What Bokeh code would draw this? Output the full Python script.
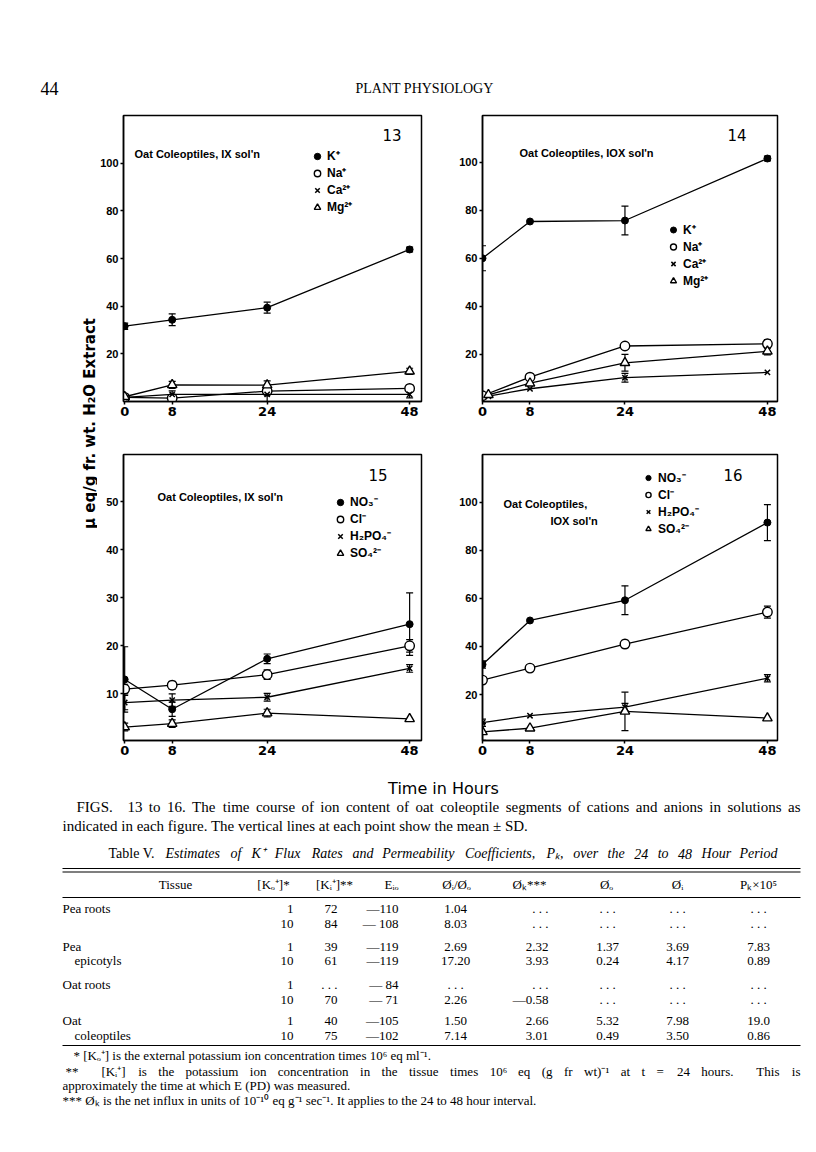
from bokeh.plotting import figure
from bokeh.models import (Range1d, FixedTicker, ColumnDataSource, Whisker, TeeHead,
                          Legend, LegendItem)
from bokeh.layouts import row, column
from bokeh.embed import file_html
from bokeh.resources import INLINE
from bokeh.core.properties import value
import math

# ---------------- data ----------------
hours = [0, 8, 24, 48]
hours_late = [1, 8, 24, 48]

cation_labels = ["K⁺", "Na⁺", "Ca²⁺", "Mg²⁺"]
anion_labels = ["NO₃⁻", "Cl⁻", "H₂PO₄⁻", "SO₄²⁻"]

# Fig 13 : oat coleoptiles, 1X solution, cations
f13_k = [31.5, 34.2, 39.3, 63.8]
f13_k_sd = [1.3, 2.5, 2.3, 1.0]
f13_na = [1.5, 1.2, 4.2, 5.3]
f13_na_sd = [0, 0, 1.5, 1.5]
f13_ca = [1.5, 2.8, 2.8, 2.8]
f13_ca_sd = [0, 1.5, 3.0, 1.5]
f13_mg = [1.8, 6.8, 6.7, 12.5]
f13_mg_sd = [0, 1.5, 1.8, 1.3]

# Fig 14 : oat coleoptiles, 10X solution, cations
f14_k = [60.0, 75.3, 75.7, 101.5]
f14_k_sd = [5.2, 0, 6.0, 1.0]
f14_na = [2.8, 10.5, 23.5, 24.4]
f14_na_sd = [0, 0, 1.2, 1.8]
f14_ca = [2.6, 5.7, 10.3, 12.5]
f14_ca_sd = [0, 0, 1.8, 0]
f14_mg = [3.2, 8.0, 16.5, 21.3]
f14_mg_sd = [0, 0, 3.5, 1.5]

# Fig 15 : oat coleoptiles, 1X solution, anions
f15_no3 = [13.0, 6.8, 17.3, 24.5]
f15_no3_sd = [6.8, 1.5, 1.0, 6.5]
f15_cl = [11.0, 11.8, 14.0, 20.0]
f15_cl_sd = [1.0, 0.8, 1.0, 1.3]
f15_h2po4 = [8.2, 8.7, 9.3, 15.3]
f15_h2po4_sd = [1.5, 1.3, 0.8, 0.8]
f15_so4 = [3.1, 3.8, 6.0, 4.8]
f15_so4_sd = [0.8, 0.8, 0.8, 0]

# Fig 16 : oat coleoptiles, 10X solution, anions
f16_no3 = [32.5, 50.8, 59.2, 91.5]
f16_no3_sd = [1.5, 0, 6.0, 7.5]
f16_cl = [26.0, 31.0, 41.0, 54.3]
f16_cl_sd = [1.5, 0, 1.5, 2.5]
f16_h2po4 = [8.3, 11.2, 14.8, 26.8]
f16_h2po4_sd = [1.5, 0, 1.5, 1.5]
f16_so4 = [4.5, 6.0, 13.0, 10.2]
f16_so4_sd = [3.5, 0, 8.0, 0]

yticks_big = [20, 40, 60, 80, 100]
yticks_small = [10, 20, 30, 40, 50]

# Table V
tbl_tissue = ["Pea roots", "", "Pea", "epicotyls", "Oat roots", "", "Oat", "coleoptiles"]
tbl_ko = ["1", "10", "1", "10", "1", "10", "1", "10"]
tbl_ki = ["72", "84", "39", "61", ". . .", "70", "40", "75"]
tbl_e = ["—110", "— 108", "—119", "—119", "— 84", "— 71", "—105", "—102"]
tbl_ratio = ["1.04", "8.03", "2.69", "17.20", ". . .", "2.26", "1.50", "7.14"]
tbl_phik = [". . .", ". . .", "2.32", "3.93", ". . .", "—0.58", "2.66", "3.01"]
tbl_phio = [". . .", ". . .", "1.37", "0.24", ". . .", ". . .", "5.32", "0.49"]
tbl_phii = [". . .", ". . .", "3.69", "4.17", ". . .", ". . .", "7.98", "3.50"]
tbl_pk = [". . .", ". . .", "7.83", "0.89", ". . .", ". . .", "19.0", "0.86"]
tbl_head = ["Tissue", "[Kₒ⁺]*", "[Kᵢ⁺]**", "Eᵢₒ", "Øᵢ/Øₒ", "Øₖ***", "Øₒ", "Øᵢ", "Pₖ×10⁵"]

SANS = "DejaVu Sans"
LSANS = "Liberation Sans"
SERIF = "Liberation Serif"

# ---------------- panel geometry (page pixels) ----------------
G = {
    13: dict(w=348, h=340, bl=26, br=24, bt=10, bb=44, fx0=123, fy0=115, fw=298, fh=286,
             xr=(-0.2, 50.0), yr=(-0.2, 120.2)),
    14: dict(w=363, h=340, bl=37, br=31, bt=10, bb=44, fx0=482, fy0=115, fw=295, fh=286,
             xr=(0.0, 49.7), yr=(0.4, 119.4)),
    15: dict(w=348, h=325, bl=26, br=24, bt=9, bb=30, fx0=123, fy0=454, fw=298, fh=286,
             xr=(-0.2, 50.0), yr=(0.3, 59.8)),
    16: dict(w=363, h=325, bl=37, br=31, bt=9, bb=30, fx0=482, fy0=454, fw=295, fh=286,
             xr=(0.0, 49.7), yr=(0.9, 119.8)),
}


def px2data(n, px, py):
    g = G[n]
    x = g["xr"][0] + (px - g["fx0"]) / g["fw"] * (g["xr"][1] - g["xr"][0])
    y = g["yr"][0] + (g["fy0"] + g["fh"] - py) / g["fh"] * (g["yr"][1] - g["yr"][0])
    return x, y


def make_panel(n, yticks):
    g = G[n]
    p = figure(width=g["w"], height=g["h"], x_range=Range1d(*g["xr"]), y_range=Range1d(*g["yr"]),
               output_backend="svg", toolbar_location=None,
               min_border_left=g["bl"], min_border_right=g["br"],
               min_border_top=g["bt"], min_border_bottom=g["bb"])
    p.xgrid.visible = False
    p.ygrid.visible = False
    p.outline_line_color = "black"
    p.outline_line_width = 1.5
    p.background_fill_color = "white"
    p.border_fill_color = "white"
    p.xaxis.ticker = FixedTicker(ticks=hours)
    p.yaxis.ticker = FixedTicker(ticks=yticks)
    for ax in (p.xaxis[0], p.yaxis[0]):
        ax.axis_line_width = 1.5
        ax.axis_line_color = "black"
        ax.major_tick_line_width = 1.5
        ax.major_tick_line_color = "black"
        ax.minor_tick_line_color = None
        ax.major_tick_in = 0
        ax.major_tick_out = 3
        ax.major_label_text_color = "black"
        ax.major_label_text_font_style = "bold"
    p.yaxis[0].major_label_text_font = LSANS
    p.yaxis[0].major_label_text_font_size = "11px"
    p.yaxis[0].major_label_standoff = 2
    p.xaxis[0].major_label_text_font = SANS
    p.xaxis[0].major_label_text_font_size = "13px"
    p.xaxis[0].major_label_standoff = 2
    return p


STYLE = {
    "filled": dict(marker="circle", size=7, fill_color="black", line_color="black", line_width=1),
    "open": dict(marker="circle", size=9.5, fill_color="white", line_color="black", line_width=1.4),
    "x": dict(marker="x", size=7.5, line_color="black", line_width=1.5),
    "tri": dict(marker="triangle", size=9.5, fill_color="white", line_color="black", line_width=1.4),
}


def series(p, xs, ys, sds, kind):
    p.line(xs, ys, line_color="black", line_width=1.3)
    ex = [x for x, s in zip(xs, sds) if s > 0]
    up = [y + s for y, s in zip(ys, sds) if s > 0]
    lo = [y - s for y, s in zip(ys, sds) if s > 0]
    if ex:
        src = ColumnDataSource(dict(x=ex, upper=up, lower=lo))
        p.add_layout(Whisker(source=src, base="x", upper="upper", lower="lower",
                             line_color="black", line_width=1.2,
                             upper_head=TeeHead(size=7, line_color="black", line_width=1.2),
                             lower_head=TeeHead(size=7, line_color="black", line_width=1.2)))
    return p.scatter(xs, ys, **STYLE[kind])


def add_legend(p, rends, labels, loc, lh):
    leg = Legend(items=[LegendItem(label=l, renderers=[r]) for l, r in zip(labels, rends)],
                 location=loc, glyph_width=16, glyph_height=lh, label_height=lh,
                 spacing=0, padding=0, margin=0, label_standoff=2,
                 border_line_color=None, background_fill_alpha=0,
                 label_text_font=LSANS, label_text_font_size="12px",
                 label_text_font_style="bold", label_text_color="black")
    p.add_layout(leg)


def ptext(p, n, px, py, txt, size, font=LSANS, style="bold", align="left"):
    x, y = px2data(n, px, py)
    p.text(x=[x], y=[y], text=[txt], text_font=value(font), text_font_size=size,
           text_font_style=style, text_align=align, text_baseline="middle", text_color="black")


# ---------------- panels ----------------
p13 = make_panel(13, yticks_big)
r = [series(p13, hours, f13_k, f13_k_sd, "filled"),
     series(p13, hours, f13_na, f13_na_sd, "open"),
     series(p13, hours, f13_ca, f13_ca_sd, "x"),
     series(p13, hours, f13_mg, f13_mg_sd, "tri")]
add_legend(p13, r, cation_labels, (186, 186), 16)
ptext(p13, 13, 134, 153, "Oat Coleoptiles, IX sol'n", "11px")
ptext(p13, 13, 382, 134, "13", "15px", font=SANS, style="normal")

p14 = make_panel(14, yticks_big)
r = [series(p14, hours, f14_k, f14_k_sd, "filled"),
     series(p14, hours, f14_na, f14_na_sd, "open"),
     series(p14, hours_late, f14_ca, f14_ca_sd, "x"),
     series(p14, hours_late, f14_mg, f14_mg_sd, "tri")]
add_legend(p14, r, cation_labels, (183, 112), 15)
ptext(p14, 14, 519, 152, "Oat Coleoptiles, IOX sol'n", "11px")
ptext(p14, 14, 727, 134, "14", "15px", font=SANS, style="normal")

p15 = make_panel(15, yticks_small)
r = [series(p15, hours, f15_no3, f15_no3_sd, "filled"),
     series(p15, hours, f15_cl, f15_cl_sd, "open"),
     series(p15, hours, f15_h2po4, f15_h2po4_sd, "x"),
     series(p15, hours, f15_so4, f15_so4_sd, "tri")]
add_legend(p15, r, anion_labels, (209, 179), 16)
ptext(p15, 15, 157, 496, "Oat Coleoptiles, IX sol'n", "11px")
ptext(p15, 15, 368, 474, "15", "15px", font=SANS, style="normal")

p16 = make_panel(16, yticks_big)
r = [series(p16, hours, f16_no3, f16_no3_sd, "filled"),
     series(p16, hours, f16_cl, f16_cl_sd, "open"),
     series(p16, hours, f16_h2po4, f16_h2po4_sd, "x"),
     series(p16, hours, f16_so4, f16_so4_sd, "tri")]
add_legend(p16, r, anion_labels, (158, 203), 13)
ptext(p16, 16, 503, 503, "Oat Coleoptiles,", "11px")
ptext(p16, 16, 550, 520, "IOX sol'n", "11px")
ptext(p16, 16, 723, 474, "16", "15px", font=SANS, style="normal")


# ---------------- text figures (page pixel coordinates) ----------------
def textfig(w, h, x0, y0):
    p = figure(width=w, height=h, x_range=Range1d(x0, x0 + w), y_range=Range1d(-(y0 + h), -y0),
               output_backend="svg", toolbar_location=None, x_axis_location=None,
               y_axis_location=None, min_border=0)
    p.grid.visible = False
    p.outline_line_color = None
    p.background_fill_color = "white"
    p.border_fill_color = "white"
    return p


def tx(p, x, y, txt, size, font=SERIF, style="normal", align="left", angle=0.0):
    if isinstance(txt, str):
        xs, ys, ts = [x], [-y], [txt]
    else:
        xs, ys, ts = list(x), [-v for v in y], list(txt)
    p.text(x=xs, y=ys, text=ts, text_font=value(font), text_font_size=size,
           text_font_style=style, text_align=align, text_baseline="middle",
           text_color="black", angle=angle)


# approximate Times advance widths (em) for spreading justified lines
TW = dict(zip("abcdefghijklmnopqrstuvwxyz",
              [.444, .5, .444, .5, .444, .333, .5, .5, .278, .278, .5, .278, .778, .5, .5, .5, .5,
               .333, .389, .278, .5, .5, .722, .5, .5, .444]))
TW.update({c: .5 for c in "0123456789*"})
TW.update({c: .25 for c in ".,:;'"})
TW.update({c: .333 for c in "()[]-"})
TW.update({c: .3 for c in "⁺⁻⁶ᵢₒₖ¹⁰"})


def tw(s, size):
    return sum(TW.get(c, .68) for c in s) * float(size.replace("px", ""))


def justify(p, x0, x1, y, line, size, style="normal"):
    words = line.split(" ")
    ws = [tw(w, size) for w in words]
    gap = (x1 - x0 - sum(ws)) / (len(words) - 1)
    xs, x = [], x0
    for w in ws:
        xs.append(x)
        x += w + gap
    tx(p, xs[:-1], [y] * (len(words) - 1), words[:-1], size, style=style)
    tx(p, x1, y, words[-1], size, style=style, align="right")


header = textfig(808, 105, 0, 0)
tx(header, 40, 88, "44", "18px")
tx(header, 355, 88, "PLANT PHYSIOLOGY", "14px")

ylab = textfig(97, 665, 0, 105)
tx(ylab, 89, 423, "μ eq/g fr. wt. H₂O Extract", "15px", font=SANS, style="bold",
   align="center", angle=math.pi / 2)

bottom = textfig(808, 372, 0, 770)
tx(bottom, 443, 788, "Time in Hours", "16px", font=SANS, align="center")
justify(bottom, 76, 800, 806, "FIGS. 13 to 16. The time course of ion content of oat coleoptile segments of "
        "cations and anions in solutions as", "15px")
tx(bottom, 62, 825, "indicated in each figure.  The vertical lines at each point show the mean ± SD.", "15px")
tx(bottom, 108, 853, "Table V.", "14px")
justify(bottom, 165, 777, 853, "Estimates of K⁺ Flux Rates and Permeability Coefficients, Pₖ, over the 24 to 48 "
        "Hour Period", "14px", style="italic")

# table rules
bottom.segment(x0=[62, 62, 62, 62], x1=[800, 800, 800, 800],
               y0=[-868, -871.5, -897, -1045], y1=[-868, -871.5, -897, -1045],
               line_color="black", line_width=[1.2, 1.2, 1.0, 1.0])

head_x = [175, 273, 334, 391, 456, 529, 606, 677, 758]
tx(bottom, head_x, [884] * 9, tbl_head, "13px", align="center")

row_y = [908, 923, 946, 960, 984, 999, 1020, 1035]
tissue_x = [62, 62, 62, 74, 62, 62, 62, 74]
for xv, yv, t in zip(tissue_x, row_y, tbl_tissue):
    if t:
        tx(bottom, xv, yv, t, "13px")
tx(bottom, [293] * 8, row_y, tbl_ko, "13px", align="right")
tx(bottom, [337] * 8, row_y, tbl_ki, "13px", align="right")
tx(bottom, [398] * 8, row_y, tbl_e, "13px", align="right")
tx(bottom, [455] * 8, row_y, tbl_ratio, "13px", align="center")
tx(bottom, [548] * 8, row_y, tbl_phik, "13px", align="right")
tx(bottom, [607] * 8, row_y, tbl_phio, "13px", align="center")
tx(bottom, [677] * 8, row_y, tbl_phii, "13px", align="center")
tx(bottom, [758] * 8, row_y, tbl_pk, "13px", align="center")

tx(bottom, 73, 1055, "*   [Kₒ⁺] is the external potassium ion concentration times 10⁶ eq ml⁻¹.", "13px")
justify(bottom, 65, 800, 1071, "**  [Kᵢ⁺] is the potassium ion concentration in the tissue times 10⁶ eq "
        "(g fr wt)⁻¹ at t = 24 hours.  This is", "13px")
tx(bottom, 62, 1085, "approximately the time at which E (PD) was measured.", "13px")
tx(bottom, 62, 1100, "***  Øₖ is the net influx in units of 10⁻¹⁰ eq g⁻¹ sec⁻¹.  It applies to the 24 "
   "to 48 hour interval.", "13px")

layout = column(header,
                row(ylab, column(row(p13, p14), row(p15, p16))),
                bottom)

open("out.html", "w").write(file_html(layout, INLINE))
